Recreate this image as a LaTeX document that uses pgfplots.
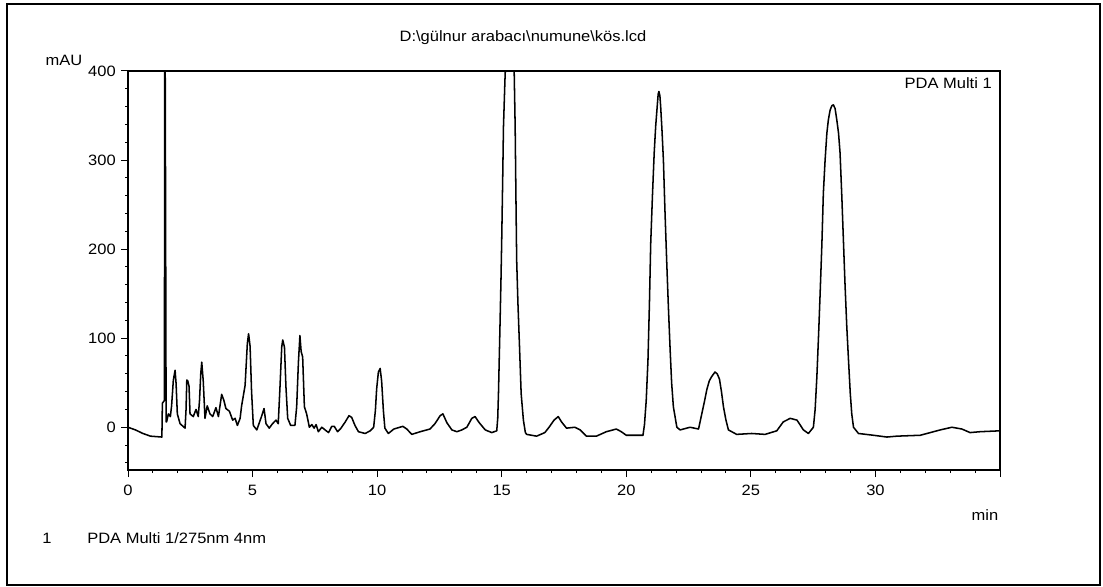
\documentclass[border=0pt]{standalone}
\usepackage{fontspec}
\setmainfont[FakeStretch=1.1]{Liberation Sans}
\usepackage{pgfplots}
\pgfplotsset{compat=1.18}
\begin{document}
\fontsize{11.25pt}{13pt}\selectfont
\begin{tikzpicture}
\path[use as bounding box] (0,0) rectangle (827.25pt,439.5pt);
\draw[line width=1.6pt] (5.25pt,0.75pt) rectangle (825pt,436.5pt);
\begin{axis}[
  at={(96pt,87pt)}, anchor=south west, scale only axis,
  width=654pt, height=299.25pt,
  xmin=0, xmax=35, ymin=-48, ymax=400,
  xtick={0,5,...,35}, xticklabels={0,5,10,15,20,25,30,},
  minor xtick={0,1,...,35},
  ytick={0,100,...,400},
  minor ytick={-40,-20,...,400},
  tick align=outside, tick pos=left,
  major tick length=5.25pt, minor tick length=2.25pt,
  tick style={black, line width=0.75pt},
  axis line style={black, line width=0.9pt},
  xticklabel style={yshift=-2pt},
  /pgf/number format/assume math mode=true,
  clip=true,
]
\addplot[black, line width=1.15pt, mark=none, line join=round] coordinates {
(0,0) (0.3,-3) (0.6,-7) (0.9,-10) (1.36,-11) (1.38,27) (1.46,30) (1.48,520) (1.50,343) (1.53,6)
(1.55,6) (1.62,15) (1.70,12) (1.75,24) (1.82,53) (1.89,64) (1.93,49) (1.98,15) (2.09,4) (2.29,-1)
(2.33,20) (2.36,53) (2.40,52) (2.45,46) (2.49,15) (2.62,12) (2.73,20) (2.82,12) (2.87,30) (2.92,60)
(2.96,73) (3.02,52) (3.09,10) (3.18,24) (3.29,15) (3.40,12) (3.53,22) (3.63,12) (3.76,37) (3.85,30)
(3.93,21) (4.07,18) (4.20,8) (4.30,10) (4.39,2) (4.50,10) (4.56,24) (4.70,47) (4.79,94) (4.84,105)
(4.90,91) (4.96,40) (5.03,2) (5.17,-3) (5.37,13) (5.46,21) (5.54,4) (5.67,-1) (5.80,4) (5.94,8)
(6.03,4) (6.10,45) (6.17,90) (6.21,98) (6.28,90) (6.34,45) (6.41,10) (6.53,2) (6.70,2) (6.77,23)
(6.84,73) (6.90,103) (6.95,85) (7.01,79) (7.08,23) (7.17,15) (7.28,0) (7.38,3) (7.47,-1) (7.55,3)
(7.64,-5) (7.78,0) (7.91,-3) (8.05,-6) (8.18,1) (8.28,1) (8.41,-5) (8.55,-1) (8.72,6) (8.87,13)
(8.98,11) (9.11,2) (9.25,-5) (9.52,-7) (9.72,-4) (9.86,0) (9.93,19) (9.98,43) (10.05,62) (10.12,66)
(10.18,52) (10.25,19) (10.31,-1) (10.45,-7) (10.67,-2) (11.03,1) (11.19,-2) (11.39,-8) (11.73,-5) (12.12,-2)
(12.32,4) (12.53,13) (12.64,15) (12.80,5) (13.0,-3) (13.2,-5) (13.4,-3) (13.6,0) (13.8,10) (13.93,12)
(14.1,5) (14.34,-3) (14.6,-6) (14.8,-4) (14.84,10) (14.87,38) (14.93,113) (14.97,165) (15.0,210) (15.04,280) (15.07,337) (15.13,390) (15.2,440)
(15.3,470) (15.4,460) (15.5,400) (15.54,337) (15.57,260) (15.6,188) (15.65,140) (15.71,94) (15.78,38) (15.87,8) (15.95,-6) (16.0,-8)
(16.4,-10) (16.73,-6) (16.9,0) (17.1,8) (17.27,12) (17.4,6) (17.6,-1) (17.94,0) (18.15,-3) (18.4,-10)
(18.8,-10) (19.2,-5) (19.6,-2) (19.8,-5) (20.0,-9) (20.67,-9) (20.73,3) (20.80,30) (20.87,75) (20.93,140) (20.98,206) (21.05,260) (21.12,308) (21.18,338)
(21.24,360) (21.28,374) (21.31,377) (21.35,372) (21.38,360) (21.43,335) (21.49,300) (21.55,245) (21.62,188) (21.69,135) (21.76,87) (21.82,50) (21.89,23) (22.03,0) (22.16,-3) (22.56,0)
(22.9,-2) (23.03,15) (23.13,28) (23.23,42) (23.33,52) (23.43,57) (23.56,62) (23.65,60) (23.74,54) (23.82,40) (23.9,23) (24.0,8) (24.1,-3) (24.43,-8) (25.03,-7)
(25.57,-8) (26.04,-4) (26.3,6) (26.58,10) (26.85,8) (27.11,-3) (27.31,-7) (27.51,0) (27.58,20) (27.65,57) (27.72,105) (27.78,150) (27.85,205)
(27.91,263) (27.98,300) (28.05,330) (28.11,345) (28.18,356) (28.25,361) (28.31,362) (28.38,358) (28.45,345) (28.52,330) (28.58,308) (28.65,260) (28.72,206) (28.78,160) (28.85,113) (28.92,75) (28.99,38) (29.05,15) (29.12,0)
(29.32,-7) (29.92,-9) (30.46,-11) (30.86,-10) (31.8,-9) (32.2,-6) (32.6,-3) (33.07,0) (33.47,-2) (33.8,-6)
(34.2,-5) (35.0,-4)
};
\end{axis}
\node at (392.25pt,411pt) {D:\textbackslash gülnur arabacı\textbackslash numune\textbackslash kös.lcd};
\node at (48pt,394.5pt) {mAU};
\node[anchor=east] at (747.75pt,377.25pt) {PDA Multi 1};
\node at (738.75pt,53.25pt) {min};
\node at (35.25pt,36pt) {1};
\node[anchor=west] at (61.5pt,36pt) {PDA Multi 1/275nm 4nm};
\end{tikzpicture}
\end{document}
